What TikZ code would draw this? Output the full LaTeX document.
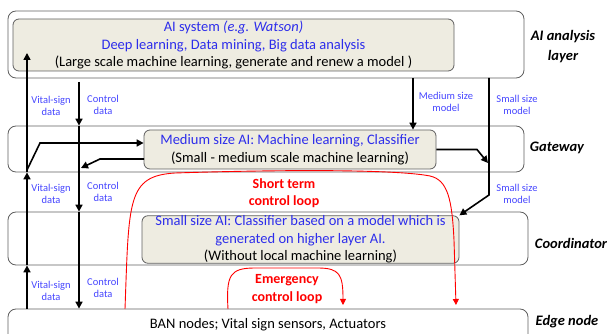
\documentclass[tikz,border=0pt]{standalone}
\usepackage{fontspec}
\setmainfont{Carlito}
\usetikzlibrary{arrows.meta}
\definecolor{aiblue}{RGB}{45,45,235}
\definecolor{lblue}{RGB}{70,70,255}
\definecolor{boxgray}{RGB}{95,95,95}
\definecolor{boxfill}{RGB}{238,236,225}

\begin{document}
\begin{tikzpicture}[x=1pt, y=-1pt,
	layerbox/.style={draw=boxgray, line width=0.8pt, rounded corners=8pt, inner sep=0pt},
	aibox/.style={draw=boxgray, line width=0.8pt, fill=boxfill, rounded corners=6pt, inner sep=0pt, align=center, font=\fontsize{14.5}{17.5}\selectfont},
	layername/.style={font=\fontsize{14.5}{20}\selectfont\bfseries\itshape, align=center},
	datalabel/.style={text=lblue, font=\fontsize{10.5}{12.5}\selectfont, align=center},
	dataflow/.style={line width=1.6pt, -{Triangle[length=7pt,width=7pt]}},
	ctrlloop/.style={red, line width=0.9pt, -{Triangle[length=6pt,width=6pt]}},
	looplabel/.style={text=red, font=\fontsize{14}{17.5}\selectfont\bfseries, align=center}]
	\clip (0,0) rectangle (614,334);
	% layers
	\node[layerbox, minimum width=516pt, minimum height=67pt] (ailayer) at (266,44.5) {};
	\node[layerbox, minimum width=516pt, minimum height=46pt] (gwlayer) at (266,149) {};
	\node[layerbox, minimum width=520pt, minimum height=53pt] (colayer) at (268,238.5) {};
	\node[layerbox, minimum width=520pt, minimum height=44pt] (edgelayer) at (268,331) {};
	% AI in each layer
	\node[aibox, minimum width=441pt, minimum height=52pt] (aisys) at (233.5,45)
		{\textcolor{aiblue}{AI system \textit{(e.g. Watson)}}\\
		 \textcolor{aiblue}{Deep learning, Data mining, Big data analysis}\\
		 (Large scale machine learning, generate and renew a model )};
	\node[aibox, minimum width=292pt, minimum height=39pt] (gwai) at (290,149.5)
		{\textcolor{aiblue}{Medium size AI: Machine learning, Classifier}\\
		 (Small - medium scale machine learning)};
	\node[aibox, minimum width=317pt, minimum height=47pt] (coai) at (300.5,239.5)
		{\textcolor{aiblue}{Small size AI: Classifier based on a model which is}\\
		 \textcolor{aiblue}{generated on higher layer AI.}\\
		 (Without local machine learning)};
	\node[font=\fontsize{14.5}{17.5}\selectfont] (bantext) at (268,325) {BAN nodes; Vital sign sensors, Actuators};
	% layer names
	\node[layername] (ainame) at (563,47) {AI analysis\\layer};
	\node[layername] (gwname) at (557,148) {Gateway};
	\node[layername] (coname) at (571,243) {Coordinator};
	\node[layername] (edgename) at (567,322) {Edge node};

	% vital-sign data, going up
	\coordinate (vsbot) at (27,309);
	\coordinate (vstop) at (27,53);
	\coordinate (vsfork) at (27,170);
	\coordinate (vsbend) at (40,143);
	\draw[dataflow] (vsbot) -- (vsbot |- colayer.south);
	\draw[dataflow] (vsbot |- colayer.south) -- (vsbot |- gwlayer.south);
	\draw[dataflow] (vsbot |- gwlayer.south) -- (vstop);
	\draw[dataflow] (vsfork) -- (vsbend) -- (vsbend -| gwai.west);
	% control data, going down
	\coordinate (cdtop) at (79,82);
	\coordinate (cdout) at (144,159);
	\coordinate (cdbend) at (100,159);
	\coordinate (cdjoin) at (81,168);
	\draw[dataflow] (cdtop) -- (cdtop |- gwlayer.north);
	\draw[dataflow] (cdtop |- gwlayer.north) -- (cdtop |- colayer.north);
	\draw[dataflow] (cdtop |- colayer.north) -- (cdtop |- edgelayer.north);
	\draw[dataflow] (cdout) -- (cdbend) -- (cdjoin);
	% models
	\coordinate (mmtop) at (413,78);
	\coordinate (smtop) at (489,78);
	\coordinate (smbend) at (489,195);
	\coordinate (gwbend) at (477,149.5);
	\coordinate (gwjoin) at (488,163);
	\draw[dataflow] (mmtop) -- (mmtop |- gwai.north);
	\draw[dataflow] (smtop) -- (smbend) -- (coai.north east);
	\draw[dataflow] (gwai.east) -- (gwbend) -- (gwjoin);

	% control loops
	\coordinate (stfrom) at (125,309);
	\coordinate (stto) at (456,305);
	\coordinate (emfrom) at (228,309);
	\coordinate (emto) at (343,305);
	\draw[ctrlloop] (stfrom) .. controls (129,200) and (127,176) .. (175,173)
		.. controls (300,169) and (400,170) .. (430,176)
		.. controls (448,180) and (452,200) .. (454,240) -- (stto);
	\draw[ctrlloop] (emfrom) .. controls (226,275) and (230,268) .. (255,268) -- (318,268)
		.. controls (340,268) and (343,275) .. (emto);

	% labels
	\node[datalabel] (vslabel1) at (51,106) {Vital-sign\\data};
	\node[datalabel] (vslabel2) at (51,194) {Vital-sign\\data};
	\node[datalabel] (vslabel3) at (51,291) {Vital-sign\\data};
	\node[datalabel] (cdlabel1) at (103,105) {Control\\data};
	\node[datalabel] (cdlabel2) at (103,192) {Control\\data};
	\node[datalabel] (cdlabel3) at (103,288) {Control\\data};
	\node[datalabel] (mmlabel) at (446,102) {Medium size\\model};
	\node[datalabel] (smlabel1) at (517,105) {Small size\\model};
	\node[datalabel] (smlabel2) at (517,194) {Small size\\model};
	\node[looplabel] (stlabel) at (284,193) {Short term\\control loop};
	\node[looplabel] (emlabel) at (287,289) {Emergency\\control loop};
\end{tikzpicture}
\end{document}
